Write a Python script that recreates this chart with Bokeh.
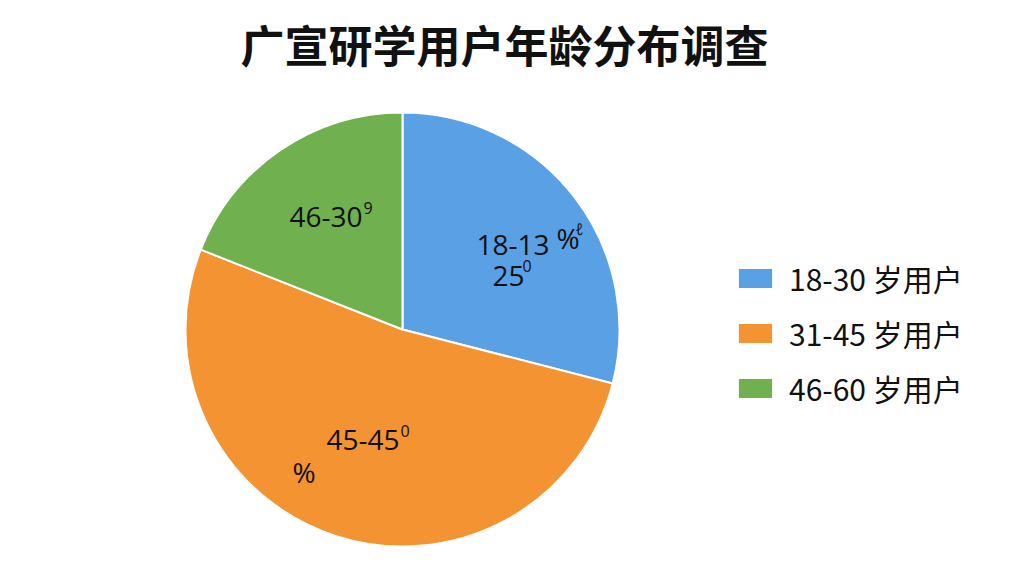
import math
from bokeh.plotting import figure
from bokeh.models import Range1d, Legend, LegendItem, ColumnDataSource
from bokeh.core.properties import value
from bokeh.embed import file_html
from bokeh.resources import INLINE

title_text = "广宣研学用户年龄分布调查"
categories = ["18-30 岁用户", "31-45 岁用户", "46-60 岁用户"]
shares = [29, 52, 19]
colors = ["#5AA0E5", "#F39331", "#70B04F"]

slice_labels = ["18-13", "25", "46-30", "45-45", "%", "%"]
label_sups = ["", "0", "9", "0", "", "ℓ"]

W = 1008
FH = 480

total = sum(shares)
starts, ends = [], []
cum = 0.0
for s in shares:
    starts.append(math.pi / 2 - cum / total * 2 * math.pi)
    cum += s
    ends.append(math.pi / 2 - cum / total * 2 * math.pi)

src = ColumnDataSource(dict(cat=categories, val=shares, color=colors,
                            start=starts, end=ends))

p = figure(frame_width=W, frame_height=FH,
           x_range=Range1d(0, W), y_range=Range1d(0, FH),
           output_backend="svg", toolbar_location=None, min_border=0,
           title=title_text)
p.min_border_top = 80
p.title.text_font = "Noto Sans CJK SC"
p.title.text_font_size = "44px"
p.title.text_font_style = "bold"
p.title.align = "center"
p.title.text_color = "#111111"
p.axis.visible = False
p.grid.visible = False
p.outline_line_color = None
p.background_fill_color = "white"
p.border_fill_color = "white"

def sx(x):
    return x - 1

def sy(y):
    return 561 - y

cx, cy, r = sx(403), sy(330), 217
wedges = p.wedge(x=cx, y=cy, radius=r, start_angle="start", end_angle="end",
                 direction="clock", fill_color="color", line_color="white",
                 line_width=2, source=src)

font = value("Open Sans")
lab_x = [sx(477), sx(493), sx(290), sx(327), sx(293), sx(557)]
lab_y = [sy(245), sy(276), sy(217), sy(440), sy(472), sy(238)]
p.text(x=lab_x, y=lab_y, text=slice_labels, text_font=font,
       text_font_size="28px", text_color="#111111",
       text_align="left", text_baseline="middle")
sup_x = [0, sx(523), sx(364), sx(401), 0, sx(576)]
sup_y = [0, sy(266), sy(208), sy(431), 0, sy(229)]
keep = [i for i in range(6) if label_sups[i]]
p.text(x=[sup_x[i] for i in keep], y=[sup_y[i] for i in keep],
       text=[label_sups[i] for i in keep], text_font=font,
       text_font_size="16px", text_color="#111111",
       text_align="left", text_baseline="middle")

items = [LegendItem(label=categories[i], renderers=[wedges], index=i)
         for i in range(3)]
legend = Legend(items=items, location=(sx(734), sy(411)),
                glyph_width=44, glyph_height=26, label_height=44,
                spacing=11, label_standoff=12, padding=0, margin=0,
                border_line_alpha=0, background_fill_alpha=0,
                label_text_font="Noto Sans CJK SC",
                label_text_font_size="30px", label_text_color="#111111",
                label_text_baseline="middle")
p.add_layout(legend)

open("out.html", "w").write(file_html(p, INLINE))
